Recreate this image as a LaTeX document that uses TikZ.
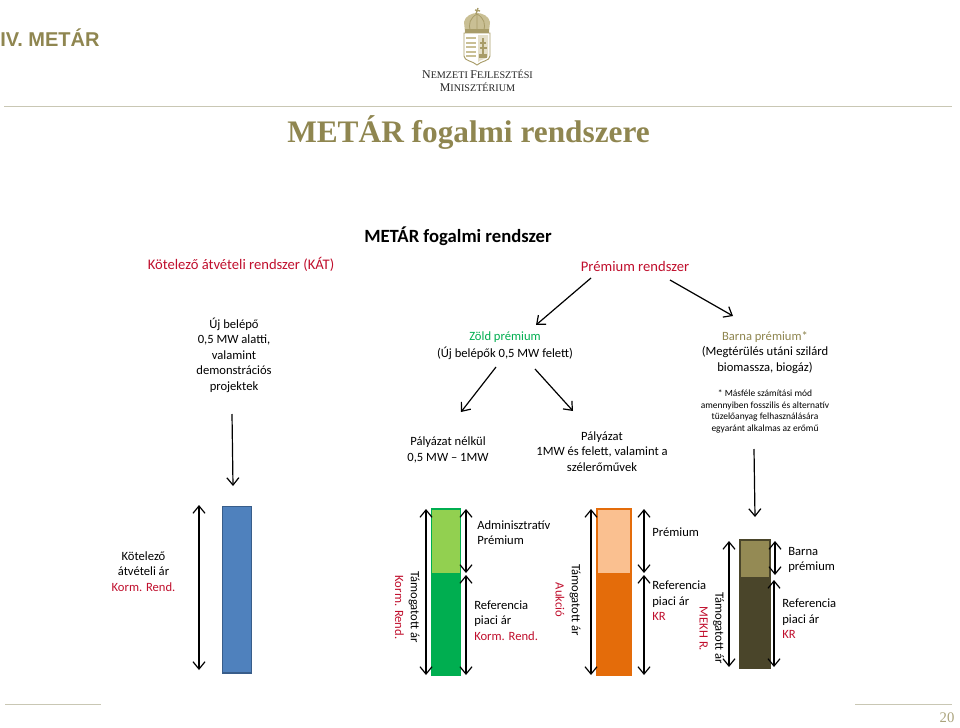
\documentclass[tikz,border=0pt]{standalone}
\usepackage{fontspec}
\setmainfont{Carlito}
\newfontfamily\serifx{Liberation Serif}
\newfontfamily\sansx{Liberation Sans}
\usetikzlibrary{arrows.meta}
\definecolor{olivex}{HTML}{8F8650}
\definecolor{redx}{HTML}{C00F2D}
\definecolor{greenx}{HTML}{00AE50}
\definecolor{lgreenx}{HTML}{92D050}
\definecolor{orangex}{HTML}{E46C0A}
\definecolor{lorangex}{HTML}{FAC090}
\definecolor{brownx}{HTML}{4A452A}
\definecolor{lbrownx}{HTML}{948A54}
\definecolor{bluex}{HTML}{4F81BD}
\definecolor{blueedgex}{HTML}{385D8A}
\definecolor{rulex}{HTML}{C9C7B4}
\definecolor{crestx}{HTML}{C9BF94}
\definecolor{crestd}{HTML}{A89C68}
\newcommand{\kr}[1]{\textcolor{redx}{#1}}
\tikzset{
  x=0.75pt,y=-0.75pt,
  lbl/.style={align=center,font=\fontsize{9.45pt}{11.6pt}\selectfont,text=black,inner sep=0pt},
  lbll/.style={lbl,align=left,anchor=west},
  rot/.style={lbl,rotate=-90},
  flow/.style={draw=black,line width=0.9pt,-{Straight Barb[length=5.5pt,width=9pt]}},
  dim/.style={draw=black,line width=0.9pt,{Straight Barb[length=5.5pt,width=9pt]}-{Straight Barb[length=5.5pt,width=9pt]}},
  rulel/.style={draw=rulex,line width=0.6pt},
  barbox/.style={minimum width=0pt,inner sep=0pt}
}
\begin{document}
\begin{tikzpicture}
\useasboundingbox (0,0) rectangle (960,728);
\fill[white] (0,0) rectangle (960,728);
% header
\node[anchor=west,inner sep=0pt,text=olivex,font=\sansx\bfseries\fontsize{15pt}{18pt}\selectfont] (head) at (0,37.5) {IV. METÁR};
\node[anchor=west,inner sep=0pt,text=olivex,font=\serifx\bfseries\fontsize{23.5pt}{28pt}\selectfont] (title) at (287,133) {METÁR fogalmi rendszere};
\draw[rulel,line width=1.1pt] (4,106.5) -- (952,106.5);
% crest
\draw[crestd,line width=0.7pt,fill=white] (464,33) -- (464,56) .. controls (464,61) and (473,61) .. (477,65) .. controls (481,61) and (490,61) .. (490,56) -- (490,33) -- cycle;
\foreach \yy in {37,41.5,46,50.5,55} {\fill[crestx] (466,\yy) rectangle (476,\yy+2.4);}
\fill[crestx!50] (478,35) -- (488,35) -- (488,56) .. controls (488,59) and (481,59) .. (478,62) -- cycle;
\draw[crestd,line width=1.1pt] (483,38) -- (483,56) (480,43) -- (486,43) (479.5,48) -- (486.5,48);
\fill[crestd] (479,54) rectangle (487,58);
\fill[crestx] (465,32) -- (464,22) .. controls (465,16) and (472,13) .. (477,13) .. controls (482,13) and (489,16) .. (490,22) -- (489,32) -- cycle;
\draw[crestd,line width=0.6pt] (470.5,31) .. controls (468,24) and (470,18) .. (477,14) .. controls (484,18) and (486,24) .. (483.5,31) (477,14) -- (477,31);
\fill[crestd] (465,29) rectangle (489,32.5);
\draw[crestd,line width=1pt] (476,14) -- (478,8) (475,10) -- (480,11);
\node[inner sep=0pt,text=black!85,font=\serifx\fontsize{7.6pt}{9.8pt}\selectfont,align=center] (logo) at (477.5,80.5) {{\fontsize{8.9pt}{9.8pt}\selectfont N}EMZETI {\fontsize{8.9pt}{9.8pt}\selectfont F}EJLESZTÉSI\\{\fontsize{8.9pt}{9.8pt}\selectfont M}INISZTÉRIUM};
% upper texts
\node[lbl,font=\bfseries\fontsize{14pt}{16pt}\selectfont] (root) at (458,236) {METÁR fogalmi rendszer};
\node[lbl,text=redx,font=\fontsize{10.95pt}{14pt}\selectfont] (kat) at (241,264) {Kötelező átvételi rendszer (KÁT)};
\node[lbl,text=redx,font=\fontsize{10.95pt}{14pt}\selectfont] (prem) at (635,266) {Prémium rendszer};
\node[lbl] (uj) at (234,355) {Új belépő\\0,5 MW alatti,\\valamint\\demonstrációs\\projektek};
\node[lbl,font=\fontsize{9.45pt}{12.8pt}\selectfont] (zold) at (505,346) {\textcolor{greenx}{Zöld prémium}\\(Új belépők 0,5 MW felett)};
\node[lbl] (barna) at (765,352.5) {\textcolor{olivex}{Barna prémium*}\\(Megtérülés utáni szilárd\\biomassza, biogáz)};
\node[lbl,font=\fontsize{7.1pt}{8.8pt}\selectfont] (note) at (765,411.5) {* Másféle számítási mód\\amennyiben fosszilis és alternatív\\tüzelőanyag felhasználására\\egyaránt alkalmas az erőmű};
\node[lbl] (pn) at (448,450) {Pályázat nélkül\\0,5 MW -- 1MW};
\node[lbl] (pf) at (602,451.5) {Pályázat\\1MW és felett, valamint a\\szélerőművek};
% bars
\node[draw=blueedgex,line width=1pt,fill=bluex,barbox,minimum width=22pt,minimum height=125pt] (bar1) at (237,589.5) {};
\node[fill=greenx,draw=greenx,line width=1pt,barbox,minimum width=22pt,minimum height=125.5pt] (bar2) at (446,592) {};
\node[fill=lgreenx,barbox,minimum width=20.5pt,minimum height=47pt] (bar2t) at (446,541.5) {};
\node[fill=orangex,draw=orangex,line width=1pt,barbox,minimum width=26.5pt,minimum height=125.5pt] (bar3) at (614,592) {};
\node[fill=lorangex,barbox,minimum width=24.5pt,minimum height=47pt] (bar3t) at (614,541.5) {};
\node[fill=brownx,draw=brownx,line width=1pt,barbox,minimum width=23pt,minimum height=96pt] (bar4) at (754.5,604) {};
\node[fill=lbrownx,barbox,minimum width=21pt,minimum height=27pt] (bar4t) at (754.5,559) {};
% flow coordinates
\coordinate (a1s) at (591,278); \coordinate (a1e) at (536,325);
\coordinate (a2s) at (670,280); \coordinate (a2e) at (733,316);
\coordinate (a3s) at (496,367); \coordinate (a3e) at (461,412);
\coordinate (a4s) at (535,369); \coordinate (a4e) at (573,411);
\coordinate (a5s) at (232,414); \coordinate (a5e) at (233,486);
\coordinate (a6s) at (754,449); \coordinate (a6e) at (755,517);
\draw[flow] (a1s) -- (a1e);
\draw[flow] (a2s) -- (a2e);
\draw[flow] (a3s) -- (a3e);
\draw[flow] (a4s) -- (a4e);
\draw[flow] (a5s) -- (a5e);
\draw[flow] (a6s) -- (a6e);
% dimension coordinates
\coordinate (d1a) at (199,505); \coordinate (d1b) at (199,670);
\coordinate (d2a) at (426,509); \coordinate (d2b) at (426,675);
\coordinate (d3a) at (466,509); \coordinate (d3b) at (466,573);
\coordinate (d4a) at (466,575); \coordinate (d4b) at (466,675);
\coordinate (d5a) at (591,509); \coordinate (d5b) at (591,675);
\coordinate (d6a) at (644,509); \coordinate (d6b) at (644,573);
\coordinate (d7a) at (644,575); \coordinate (d7b) at (644,675);
\coordinate (d8a) at (729,541); \coordinate (d8b) at (729,667);
\coordinate (d9a) at (775,541); \coordinate (d9b) at (775,575);
\coordinate (d10a) at (774,580); \coordinate (d10b) at (774,667);
\foreach \i in {1,...,10} {\draw[dim] (d\i a) -- (d\i b);}
% bar labels
\node[lbl] (k1) at (143.5,571.5) {Kötelező\\átvételi ár\\\kr{Korm. Rend.}};
\node[rot] (t1) at (414,607) {Támogatott ár};
\node[rot,text=redx] (t1b) at (399.5,607.5) {Korm. Rend.};
\node[lbll] (ap) at (477,532.5) {Adminisztratív\\Prémium};
\node[lbll] (rp1) at (474,620.5) {Referencia\\piaci ár\\\kr{Korm. Rend.}};
\node[rot] (t2) at (575,600) {Támogatott ár};
\node[rot,text=redx] (t2b) at (560,600) {Aukció};
\node[lbll] (pr) at (652,532) {Prémium};
\node[lbll] (rp2) at (652,601) {Referencia\\piaci ár\\\kr{KR}};
\node[rot] (t3) at (718.5,628) {Támogatott ár};
\node[rot,text=redx] (t3b) at (703.5,629) {MEKH R.};
\node[lbll] (bp) at (788,560) {Barna\\prémium};
\node[lbll] (rp3) at (782,619) {Referencia\\piaci ár\\\kr{KR}};
% footer
\draw[rulel] (5,704.5) -- (101,704.5);
\draw[rulel] (855,704.5) -- (952,704.5);
\node[inner sep=0pt,text=olivex!75,font=\serifx\fontsize{11pt}{13pt}\selectfont] (pg) at (947,718) {20};
\end{tikzpicture}
\end{document}
